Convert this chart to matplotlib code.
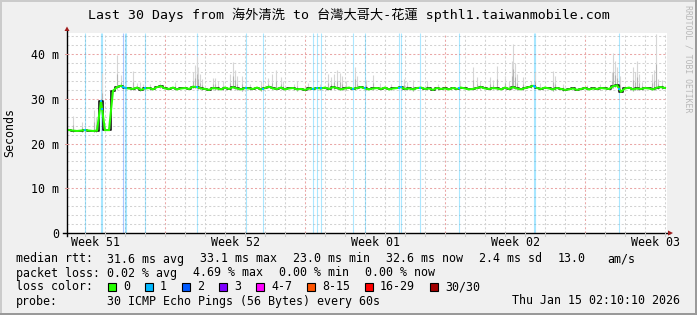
import numpy as np
import matplotlib
matplotlib.use("Agg")
import matplotlib.pyplot as plt
from matplotlib.patches import Rectangle, Polygon
from matplotlib.lines import Line2D

# ---------------- data ----------------
title = "Last 30 Days from 海外清洗 to 台灣大哥大-花蓮 spthl1.taiwanmobile.com"
y_ticks = [0, 10, 20, 30, 40]
y_tick_labels = ["0", "10 m", "20 m", "30 m", "40 m"]
week_labels = ["Week 51", "Week 52", "Week 01", "Week 02", "Week 03"]
week_label_days = [1.41, 8.41, 15.41, 22.41, 29.41]   # Wednesday noon of each week
week_start_days = [4.91, 11.91, 18.91, 25.91]          # Sunday midnights
first_midnight = 0.91
span_days = 30
y_max = 44.7

sample_step = 0.2
median_ms = [
    23.0, 22.9, 22.8, 22.9, 23.0, 22.9, 22.8, 22.9, 29.4, 23.0, 23.0,
    31.8, 32.6, 32.9, 32.4,
    32.3, 32.2, 32.5, 32.0, 32.3, 32.4, 32.1, 32.6, 32.8, 32.3,
    32.2, 32.5, 32.1, 32.3, 32.4, 32.2, 32.7, 32.6, 32.3, 32.2,
    32.0, 32.4, 32.3, 32.1, 32.5, 32.2, 32.6, 32.3, 32.1, 32.4,
    32.3, 32.2, 32.5, 32.1, 32.4, 32.7, 32.3, 32.2, 32.5, 32.1,
    32.3, 32.4, 32.1, 32.2, 32.0, 32.3, 32.2, 32.4, 32.3, 32.5,
    32.2, 32.6, 32.4, 32.1, 32.3, 32.5, 32.2, 32.4, 32.6, 32.3,
    32.1, 32.3, 32.4, 32.2, 32.5, 32.1, 32.3, 32.4, 32.6, 32.2,
    32.3, 32.1, 32.4, 32.5, 32.2, 32.3, 32.0, 32.4, 32.2, 32.3,
    32.1, 32.4, 32.2, 32.5, 32.3, 32.1, 32.2, 32.4, 32.6, 32.3,
    32.2, 32.4, 32.3, 32.1, 32.5, 32.2, 32.6, 32.3, 32.1, 32.4,
    32.6, 32.9, 32.4, 32.2, 32.5, 32.3, 32.1, 32.4, 32.2, 32.0,
    32.1, 32.3, 32.0, 32.2, 32.4, 32.1, 32.3, 32.2, 32.4, 32.3,
    32.2, 32.8, 33.0, 31.6, 32.3, 32.5, 32.1, 32.3, 32.2, 32.4,
    32.3, 32.1, 32.5, 32.6, 32.4,
]

spike_days = [0.30, 0.73, 1.35, 1.45, 1.75, 2.48, 2.70, 3.28, 3.50, 3.65,
              3.80, 4.15, 4.65, 5.40, 6.30, 6.40, 6.48, 6.55, 6.65, 6.75,
              7.30, 7.40, 7.55, 7.80, 8.15, 8.30, 8.38, 8.50, 8.73, 9.15,
              9.70, 9.80, 10.05, 10.25, 10.45, 10.70, 10.80, 11.35, 11.50, 12.05,
              12.65, 13.05, 13.20, 13.35, 13.50, 13.65, 13.75, 13.95, 14.40, 14.50,
              14.95, 15.30, 15.65, 15.90, 16.20, 16.85, 17.00, 17.30, 18.00, 18.55,
              19.65, 20.30, 20.50, 20.65, 21.15, 21.30, 21.50, 21.90, 22.10, 22.25,
              22.30, 22.40, 22.50, 22.80, 23.20, 23.40, 23.65, 24.30, 24.40, 24.80,
              26.00, 26.65, 27.25, 27.30, 27.40, 27.50, 27.65, 28.30, 28.40, 28.50,
              28.60, 28.75, 29.25, 29.35, 29.45, 29.55, 29.75]
spike_tops = [26.2, 24.9, 27.4, 26.0, 35.8, 39.7, 35.3, 36.1, 33.5, 33.8,
              33.4, 33.2, 33.6, 33.8, 36.0, 37.6, 39.5, 37.0, 35.5, 34.5,
              34.7, 34.7, 34.0, 33.9, 35.5, 38.3, 36.5, 35.0, 35.1, 33.4,
              33.9, 33.5, 34.7, 35.5, 36.5, 34.8, 34.0, 33.4, 33.9, 33.6,
              33.3, 35.5, 34.8, 35.6, 36.4, 35.8, 35.0, 34.0, 37.2, 35.0,
              34.3, 35.3, 33.5, 33.1, 33.4, 34.5, 33.8, 34.3, 33.9, 33.3,
              33.9, 37.2, 34.8, 34.0, 34.8, 34.2, 37.4, 35.0, 34.0, 38.5,
              42.2, 38.0, 35.5, 34.8, 34.0, 36.0, 33.5, 36.1, 35.2, 33.4,
              33.1, 33.3, 36.0, 40.2, 38.5, 37.0, 35.0, 37.0, 36.0, 38.4,
              35.5, 33.8, 35.5, 36.5, 44.5, 34.5, 34.3]

loss_days = [0.90, 1.70, 1.75, 2.82, 2.88, 2.93, 3.90, 6.51, 8.96, 9.81,
             12.31, 12.51, 12.68, 14.31, 14.90, 16.60, 16.70, 17.66, 19.61,
             23.33, 23.38, 27.61]
loss_levels = [1, 1, 1, 2, 1, 1, 1, 1, 1, 1,
               1, 1, 1, 1, 1, 1, 1, 1, 1,
               1, 1, 1]

stats_row1 = ["median rtt:", "31.6 ms avg", "33.1 ms max", "23.0 ms min",
              "32.6 ms now", "2.4 ms sd", "13.0", "am/s"]
stats_row2 = ["packet loss:", "0.02 % avg", "4.69 % max", "0.00 % min", "0.00 % now"]
loss_title = "loss color:"
loss_labels = ["0", "1", "2", "3", "4-7", "8-15", "16-29", "30/30"]
loss_colors = ["#26ff00", "#00b8ff", "#0059ff", "#7e00ff",
               "#ff00ff", "#ff5500", "#ff0000", "#a10000"]
probe_row = ["probe:", "30 ICMP Echo Pings (56 Bytes) every 60s"]
timestamp = "Thu Jan 15 02:10:10 2026"
side_text = "RRDTOOL / TOBI OETIKER"
y_label = "Seconds"

# ---------------- layout ----------------
W, H = 697, 315
DPI = 100
MONO = ["DejaVu Sans Mono", "Noto Sans CJK SC"]
FS = 8.4
plt.rcParams["font.family"] = MONO

fig = plt.figure(figsize=(W / DPI, H / DPI), dpi=DPI, facecolor="#f0f0f0")

def fxy(px, py):
    return px / W, 1 - py / H

def ftext(px, py, s, **kw):
    x, y = fxy(px, py)
    kw.setdefault("fontsize", FS)
    kw.setdefault("va", "center")
    kw.setdefault("family", MONO)
    fig.text(x, y, s, **kw)

def frect(px, py, w, h, **kw):
    x, y = fxy(px, py + h)
    fig.add_artist(Rectangle((x, y), w / W, h / H, transform=fig.transFigure, **kw))

# frame shading
frect(0, 0, W, 2, facecolor="#cbcbcb", edgecolor="none")
frect(0, 0, 2, H, facecolor="#cbcbcb", edgecolor="none")
frect(0, H - 2.5, W, 2.5, facecolor="#999999", edgecolor="none")
frect(W - 2.5, 0, 2.5, H, facecolor="#999999", edgecolor="none")

PL, PR, PT, PB = 67, 667, 33, 233
ax = fig.add_axes([PL / W, 1 - PB / H, (PR - PL) / W, (PB - PT) / H])
ax.set_facecolor("white")
ax.set_xlim(0, span_days)
ax.set_ylim(0, y_max)
for s in ax.spines.values():
    s.set_visible(False)

# grid
minor_x = np.arange(first_midnight, span_days, 1.0)
for d in minor_x:
    if not any(abs(d - w) < 1e-6 for w in week_start_days):
        ax.axvline(d, color="#d2d2d2", lw=0.75, ls=(0, (2, 2)), zorder=1)
for d in week_start_days:
    ax.axvline(d, color="#eaa6a6", lw=0.75, ls=(0, (2, 2)), zorder=1)
for v in np.arange(2, y_max, 2):
    if v % 10 == 0:
        ax.axhline(v, color="#eaa6a6", lw=0.75, ls=(0, (2, 2)), zorder=1)
    else:
        ax.axhline(v, color="#d2d2d2", lw=0.75, ls=(0, (2, 2)), zorder=1)

# loss bars
for d, lv in zip(loss_days, loss_levels):
    ax.vlines(d, 0, y_max, colors=loss_colors[lv], alpha=0.33, lw=0.8, zorder=2)

# smoke
days = 0.1 + sample_step * np.arange(len(median_ms))
med = np.array(median_ms)
sd = np.array(spike_days)
st = np.array(spike_tops)
base = np.interp(sd, days, med) - 0.3
ax.vlines(sd, base, st, colors="#d6d6d6", lw=0.8, zorder=3)
ax.vlines(sd, base, base + 0.45 * (st - base), colors="#b4b4b4", lw=0.8, zorder=3)

# median line
ax.plot(days, med, color="#151515", lw=1.2, drawstyle="steps-mid", zorder=4)
ax.plot(days, med, color="#26ff00", lw=1.5, zorder=5, solid_joinstyle="miter")
loss_med = np.interp(loss_days, days, med)
ax.plot(loss_days, loss_med, ls="none", marker="s", ms=1.6,
        color="#00b8ff", mew=0, zorder=6)

# ticks
ax.set_yticks(y_ticks, y_tick_labels)
ax.set_xticks(week_label_days, week_labels)
ax.tick_params(axis="both", length=0, labelsize=FS)
ax.tick_params(axis="y", pad=5.6)
ax.tick_params(axis="x", pad=2.2)

# axes lines and arrows
ax.add_line(Line2D([-4 / 600, 603 / 600], [0, 0], transform=ax.transAxes,
                   color="black", lw=1.0, clip_on=False, zorder=7))
ax.add_line(Line2D([0, 0], [-3 / 200, 202 / 200], transform=ax.transAxes,
                   color="black", lw=1.0, clip_on=False, zorder=7))
for pts in ([(668, 230.5), (668, 235.5), (673, 233)],
            [(64.5, 31), (69.5, 31), (67, 26.5)]):
    fig.add_artist(Polygon([fxy(*p) for p in pts], closed=True,
                           transform=fig.transFigure, facecolor="#a01c1c",
                           edgecolor="none"))
# small tick marks under axis
for d in minor_x:
    ax.add_line(Line2D([d, d], [0, -2.5 / 200 * y_max], color="#c8c8c8",
                       lw=0.75, clip_on=False, zorder=7))
for v in y_ticks[1:]:
    ax.add_line(Line2D([-2.5 / 600 * span_days, 0], [v, v], color="#e09a9a",
                       lw=0.75, clip_on=False, zorder=7))

# texts
ftext(W / 2, 15, title, fontsize=9.5, ha="center")
ftext(10, 132, y_label, rotation=90, ha="center")
ftext(688, 5, side_text, rotation=270, ha="center", va="top",
      fontsize=5.9, color="#b8b8b8")

row_y = [259, 273, 287, 301]
row1_x = [16, 107, 200, 293, 386, 479, 558, 607]
row2_x = [16, 107, 193, 279, 365]
for s, x in zip(stats_row1, row1_x):
    ftext(x, row_y[0], s, ha="left")
for s, x in zip(stats_row2, row2_x):
    ftext(x, row_y[1], s, ha="left")

ftext(16, row_y[2], loss_title, ha="left")
bx = 108
for lab, col in zip(loss_labels, loss_colors):
    frect(bx, row_y[2] - 4, 8, 8, facecolor=col, edgecolor="black", lw=0.8)
    ftext(bx + 15, row_y[2], lab, ha="left")
    bx += 30 + 7 * len(lab)

ftext(16, row_y[3], probe_row[0], ha="left")
ftext(107, row_y[3], probe_row[1], ha="left")
ftext(680, row_y[3], timestamp, ha="right")

fig.savefig("out.png", dpi=DPI, facecolor=fig.get_facecolor())
